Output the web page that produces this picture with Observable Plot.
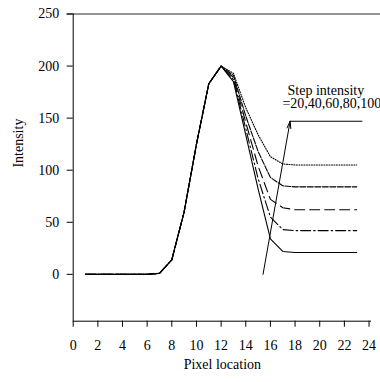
<!DOCTYPE html>
<html>
<head>
<meta charset="utf-8">
<script src="https://cdn.jsdelivr.net/npm/d3@7"></script>
<script src="https://cdn.jsdelivr.net/npm/@observablehq/plot@0.6"></script>
<style>
  html, body { margin: 0; padding: 0; background: #fff; }
</style>
</head>
<body>
<div id="chart"></div>
<script>
// ---- data ----
const pixelLocation = [1,2,3,4,5,6,7,8,9,10,11,12,13,14,15,16,17,18,19,20,21,22,23];
const step20  = [0,0,0,0,0,0,1,14,60,125,183,200,185,134,82,34,22,21,21,21,21,21,21];
const step40  = [0,0,0,0,0,0,1,14,60,125,183,200,187,140,92,55,43,42,42,42,42,42,42];
const step60  = [0,0,0,0,0,0,1,14,60,125,183,200,189,146,104,72,64,62,62,62,62,62,62];
const step80  = [0,0,0,0,0,0,1,14,60,125,183,200,191,152,118,93,85,84,84,84,84,84,84];
const step100 = [0,0,0,0,0,0,1,14,60,125,183,200,193,160,134,113,106,105,105,105,105,105,105];
const stepLevels = [20, 40, 60, 80, 100];

const xTicks = [0,2,4,6,8,10,12,14,16,18,20,22,24];
const yTicks = [0,50,100,150,200,250];

// annotation (data coordinates)
const arrowTail = {x: 15.4, y: 0};
const arrowTip  = {x: 17.6, y: 147};
const leaderEndX = 23.5;
const noteLines = ["Step intensity", "=20,40,60,80,100"];

// ---- build ----
const seriesValues = [step20, step40, step60, step80, step100];
const dashes = [null, "10,3,1.5,3", "10,5", "6,1.5", "1,1.5"];

const series = stepLevels.map((lvl, i) => ({
  level: lvl,
  rows: pixelLocation.map((x, j) => ({x, y: seriesValues[i][j]})),
  dash: dashes[i]
}));

const font = "'Liberation Serif', 'Times New Roman', serif";

const plot = Plot.plot({
  width: 380,
  height: 382,
  marginLeft: 72.7,
  marginRight: 9,
  marginTop: 13.5,
  marginBottom: 61.3,
  style: {fontFamily: font, fontSize: "14px", background: "#fff", color: "#000", overflow: "visible"},
  x: {domain: [0, 24.2]},
  y: {domain: [-45, 250]},
  marks: [
    // top border line (gray), extends to the right edge
    Plot.ruleY([250], {x1: -0.5, x2: 24.95, stroke: "#707070", strokeWidth: 1.3}),
    // axis lines
    Plot.ruleX([0], {stroke: "#000", strokeWidth: 1}),
    Plot.ruleY([-45], {x1: 0, x2: 24.2, stroke: "#000", strokeWidth: 1}),
    Plot.axisY({ticks: yTicks, tickSize: 6, tickPadding: 8, label: null, fontSize: 14}),
    Plot.axisX({ticks: xTicks, tickSize: 6, tickPadding: 13, label: null, fontSize: 14}),
    // curves
    ...series.map(s => Plot.line(s.rows, {
      x: "x", y: "y", stroke: "#000", strokeWidth: 1.1,
      strokeDasharray: s.dash
    })),
    // annotation arrow and leader
    Plot.arrow([{x1: arrowTail.x, y1: arrowTail.y, x2: arrowTip.x, y2: arrowTip.y}], {
      x1: "x1", y1: "y1", x2: "x2", y2: "y2", stroke: "#000", strokeWidth: 1,
      headAngle: 30, headLength: 11
    }),
    Plot.ruleY([arrowTip.y], {x1: arrowTip.x, x2: leaderEndX, stroke: "#000", strokeWidth: 1}),
    Plot.text([noteLines[0]], {x: 20.5, y: 177, text: d => d, textAnchor: "middle", fontSize: 14}),
    Plot.text([noteLines[1]], {x: 16.97, y: 164, text: d => d, textAnchor: "start", fontSize: 14}),
    // axis titles
    Plot.text(["Pixel location"], {frameAnchor: "bottom", dy: 48, text: d => d, fontSize: 14}),
    Plot.text(["Intensity"], {frameAnchor: "left", dx: -55, rotate: -90, text: d => d, fontSize: 14})
  ]
});

document.getElementById("chart").append(plot);
</script>
</body>
</html>
